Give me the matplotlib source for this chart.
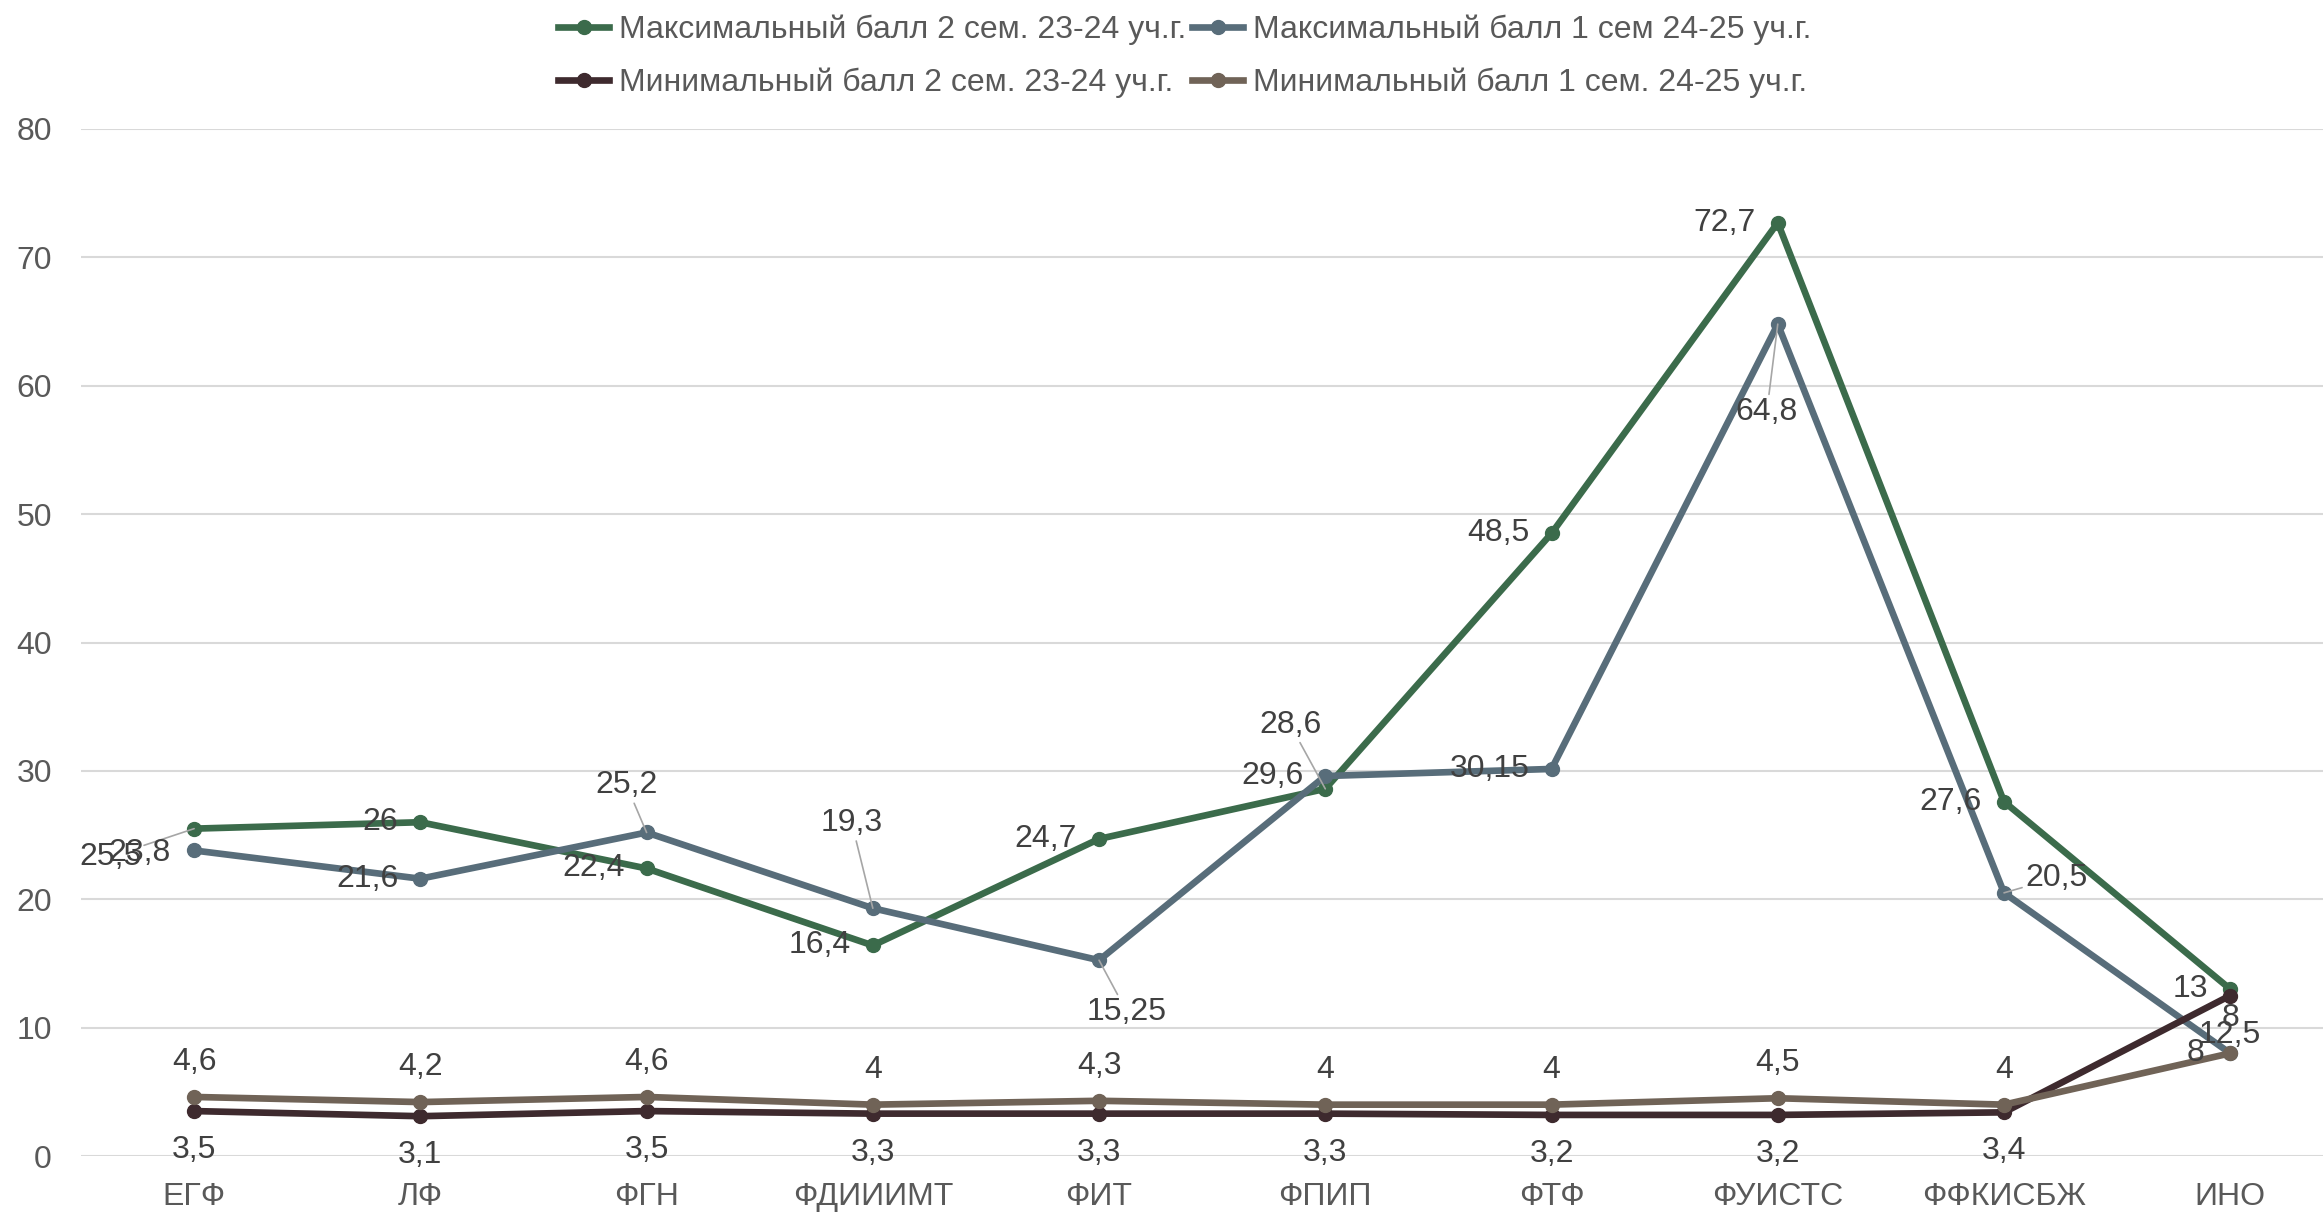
import matplotlib
matplotlib.use("Agg")
import matplotlib.pyplot as plt

plt.rcParams['font.family'] = ['Liberation Sans', 'DejaVu Sans']

faculties = ["ЕГФ", "ЛФ", "ФГН", "ФДИИИМТ", "ФИТ", "ФПИП", "ФТФ", "ФУИСТС", "ФФКИСБЖ", "ИНО"]

max_23_24 = [25.5, 26, 22.4, 16.4, 24.7, 28.6, 48.5, 72.7, 27.6, 13]
max_24_25 = [23.8, 21.6, 25.2, 19.3, 15.25, 29.6, 30.15, 64.8, 20.5, 8]
min_23_24 = [3.5, 3.1, 3.5, 3.3, 3.3, 3.3, 3.2, 3.2, 3.4, 12.5]
min_24_25 = [4.6, 4.2, 4.6, 4, 4.3, 4, 4, 4.5, 4, 8]

names = [
    "Максимальный балл 2 сем. 23-24 уч.г.",
    "Максимальный балл 1 сем 24-25 уч.г.",
    "Минимальный балл 2 сем. 23-24 уч.г.",
    "Минимальный балл 1 сем. 24-25 уч.г.",
]
colors = ["#3B6B4B", "#586D7A", "#3E2A2E", "#706357"]

# label placement (offset in pixels, alignment, leader line)
LEFT = (-22, 0, "right", False)
ABOVE = (0, 35, "center", False)
BELOW = (0, -39, "center", False)
pos_max_23_24 = [(-84, -28, "center", True), LEFT, LEFT, LEFT, LEFT,
                 (-35, 64, "center", True), LEFT, LEFT, LEFT, LEFT]
pos_max_24_25 = [(-55, -3, "center", False), LEFT, (-20, 47, "center", True),
                 (-21, 85, "center", True), (28, -52, "center", True), LEFT, LEFT,
                 (-11, -88, "center", True), (52, 15, "center", True), ABOVE]
pos_min_23_24 = [BELOW] * 10
pos_min_24_25 = [ABOVE] * 9 + [(-26, 0, "right", False)]

FS = 23


def fmt(v):
    return f"{v:g}".replace(".", ",")


fig = plt.figure(figsize=(23.23, 12.12), dpi=100)
ax = fig.add_axes([81 / 2323, 56 / 1212, 1 - 81 / 2323, 1027 / 1212])

x = list(range(len(faculties)))
series = [max_23_24, max_24_25, min_23_24, min_24_25]
positions = [pos_max_23_24, pos_max_24_25, pos_min_23_24, pos_min_24_25]
handles = []
for vals, name, col, pos in zip(series, names, colors, positions):
    h, = ax.plot(x, vals, color=col, lw=4.8, marker="o", markersize=10,
                 label=name, zorder=3, clip_on=False)
    handles.append(h)
    for xi, v, (dx, dy, ha, leader) in zip(x, vals, pos):
        kw = {}
        if leader:
            kw["arrowprops"] = dict(arrowstyle="-", color="#A6A6A6", lw=1.2,
                                    shrinkA=0, shrinkB=0)
        ax.annotate(fmt(v), (xi, v), xytext=(dx, dy), textcoords="offset pixels",
                    ha=ha, va="center", fontsize=FS, color="#404040", zorder=5, **kw)

ax.set_xlim(-0.5, 9.41)
ax.set_ylim(0, 80)
ax.set_yticks(range(0, 81, 10))
ax.set_xticks(x)
ax.set_xticklabels(faculties)
ax.tick_params(axis="both", length=0, labelsize=FS, labelcolor="#595959")
ax.tick_params(axis="y", pad=21)
ax.tick_params(axis="x", pad=19)
ax.grid(axis="y", color="#D9D9D9", lw=1.5)
ax.set_axisbelow(True)
for s in ax.spines.values():
    s.set_visible(False)

order = [0, 2, 1, 3]
fig.legend([handles[i] for i in order], [names[i] for i in order],
           loc="center", bbox_to_anchor=(0.51, 1 - 56 / 1212), ncol=2,
           frameon=False, fontsize=FS, labelcolor="#595959",
           handlelength=1.6, handletextpad=0.3, columnspacing=0.2,
           labelspacing=0.7, borderpad=0)

fig.savefig("out.png", dpi=100, facecolor="white")
